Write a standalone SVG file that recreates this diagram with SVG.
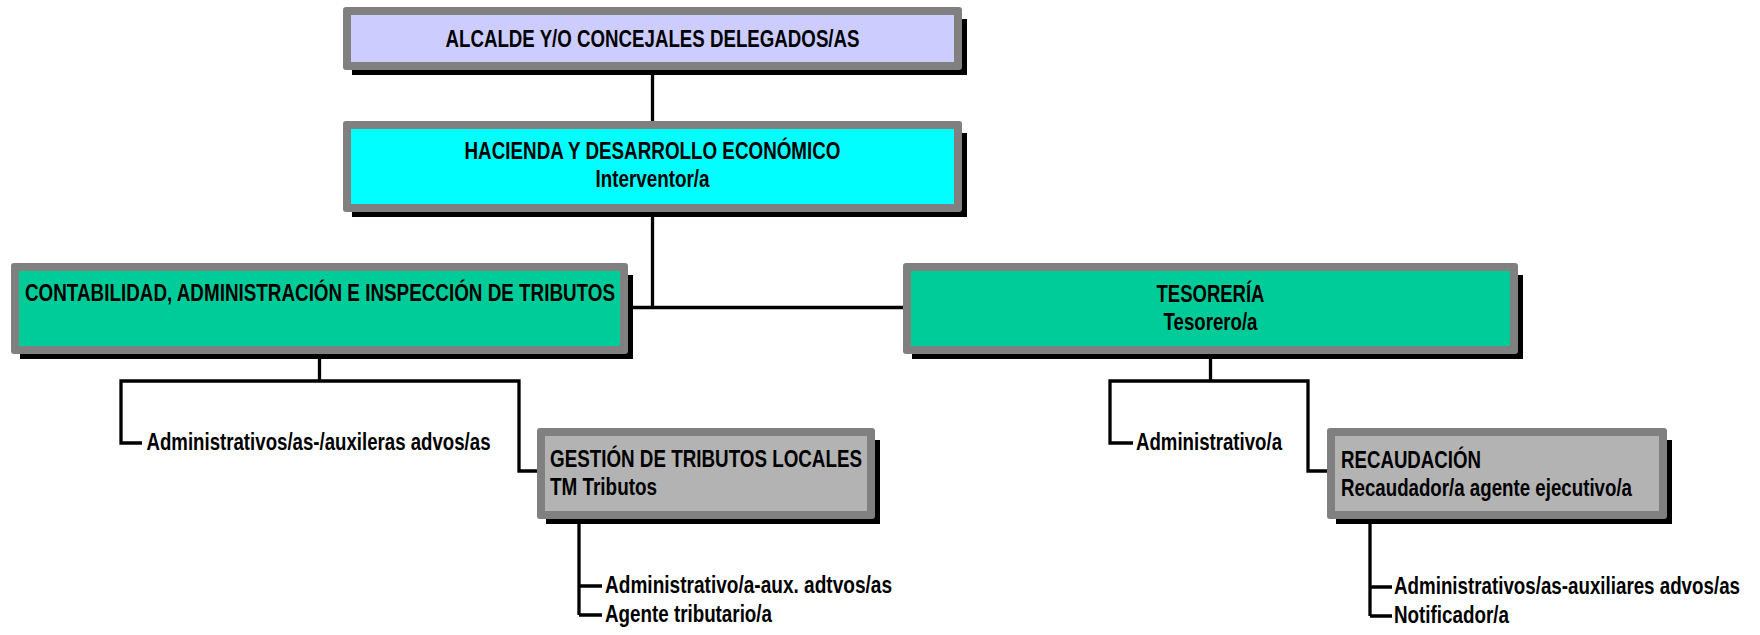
<svg xmlns="http://www.w3.org/2000/svg" width="1760" height="635" viewBox="0 0 1760 635">
<style>
.t{font-family:"Liberation Sans Narrow","Arial Narrow","Liberation Sans",Arial,sans-serif;font-weight:bold;font-size:23.5px;fill:#000}
.c{text-anchor:middle}
.edge{fill:none;stroke:#000;stroke-width:3.3}
.border{fill:#808080}
.shadow{fill:#000}
</style>
<rect width="1760" height="635" fill="#fff"/>
<g id="connectors">
<path class="edge" d="M652.5 70V121"/>
<path class="edge" d="M652.5 212V307.5M627 307.5H903"/>
<path class="edge" d="M319.5 354V381M142 443H121V381H519V471H537"/>
<path class="edge" d="M1210.5 354V381M1133 443H1110V381H1308V471H1327"/>
<path class="edge" d="M579 519V615M579 586H602M579 615H602"/>
<path class="edge" d="M1370 519V616M1370 587H1392M1370 616H1392"/>
</g>
<g id="alcalde">
<rect class="shadow" x="352" y="19" width="615" height="56"/>
<rect class="border" x="343" y="7" width="619" height="63" rx="3"/>
<rect x="351" y="15" width="603" height="47" fill="#CCCCFF"/>
<text class="t c" x="652.5" y="47" textLength="414" lengthAdjust="spacingAndGlyphs">ALCALDE Y/O CONCEJALES DELEGADOS/AS</text>
</g>
<g id="hacienda">
<rect class="shadow" x="352" y="133" width="615" height="84"/>
<rect class="border" x="343" y="121" width="619" height="91" rx="3"/>
<rect x="351" y="129" width="603" height="75" fill="#00FFFF"/>
<text class="t c" x="652.5" y="159" textLength="376" lengthAdjust="spacingAndGlyphs">HACIENDA Y DESARROLLO ECONÓMICO</text>
<text class="t c" x="652.5" y="187" textLength="114" lengthAdjust="spacingAndGlyphs">Interventor/a</text>
</g>
<g id="contabilidad">
<rect class="shadow" x="20" y="275" width="613" height="84"/>
<rect class="border" x="11" y="263" width="617" height="91" rx="3"/>
<rect x="19" y="271" width="601" height="75" fill="#00CC99"/>
<text class="t" x="25" y="301" textLength="590" lengthAdjust="spacingAndGlyphs">CONTABILIDAD, ADMINISTRACIÓN E INSPECCIÓN DE TRIBUTOS</text>
</g>
<g id="tesoreria">
<rect class="shadow" x="912" y="275" width="611" height="84"/>
<rect class="border" x="903" y="263" width="615" height="91" rx="3"/>
<rect x="911" y="271" width="599" height="75" fill="#00CC99"/>
<text class="t c" x="1210.5" y="301.5" textLength="108" lengthAdjust="spacingAndGlyphs">TESORERÍA</text>
<text class="t c" x="1210.5" y="330" textLength="94" lengthAdjust="spacingAndGlyphs">Tesorero/a</text>
</g>
<g id="leaf-admin-contab">
<text class="t" x="146.5" y="450" textLength="344" lengthAdjust="spacingAndGlyphs">Administrativos/as-/auxileras advos/as</text>
</g>
<g id="leaf-admin-tesoreria">
<text class="t" x="1136" y="450" textLength="146" lengthAdjust="spacingAndGlyphs">Administrativo/a</text>
</g>
<g id="gestion">
<rect class="shadow" x="546" y="440" width="334" height="84"/>
<rect class="border" x="537" y="428" width="338" height="91" rx="3"/>
<rect x="545" y="436" width="322" height="75" fill="#B3B3B3"/>
<text class="t" x="550" y="467" textLength="312" lengthAdjust="spacingAndGlyphs">GESTIÓN DE TRIBUTOS LOCALES</text>
<text class="t" x="550" y="495" textLength="107" lengthAdjust="spacingAndGlyphs">TM Tributos</text>
</g>
<g id="recaudacion">
<rect class="shadow" x="1336" y="440" width="336" height="84"/>
<rect class="border" x="1327" y="428" width="340" height="91" rx="3"/>
<rect x="1335" y="436" width="324" height="75" fill="#B3B3B3"/>
<text class="t" x="1341" y="468" textLength="140" lengthAdjust="spacingAndGlyphs">RECAUDACIÓN</text>
<text class="t" x="1341" y="496" textLength="291" lengthAdjust="spacingAndGlyphs">Recaudador/a agente ejecutivo/a</text>
</g>
<g id="leaf-gestion-1">
<text class="t" x="605" y="593" textLength="287" lengthAdjust="spacingAndGlyphs">Administrativo/a-aux. adtvos/as</text>
</g>
<g id="leaf-gestion-2">
<text class="t" x="605" y="622" textLength="167" lengthAdjust="spacingAndGlyphs">Agente tributario/a</text>
</g>
<g id="leaf-recaudacion-1">
<text class="t" x="1394" y="594" textLength="346" lengthAdjust="spacingAndGlyphs">Administrativos/as-auxiliares advos/as</text>
</g>
<g id="leaf-recaudacion-2">
<text class="t" x="1394" y="623" textLength="115" lengthAdjust="spacingAndGlyphs">Notificador/a</text>
</g>
</svg>
